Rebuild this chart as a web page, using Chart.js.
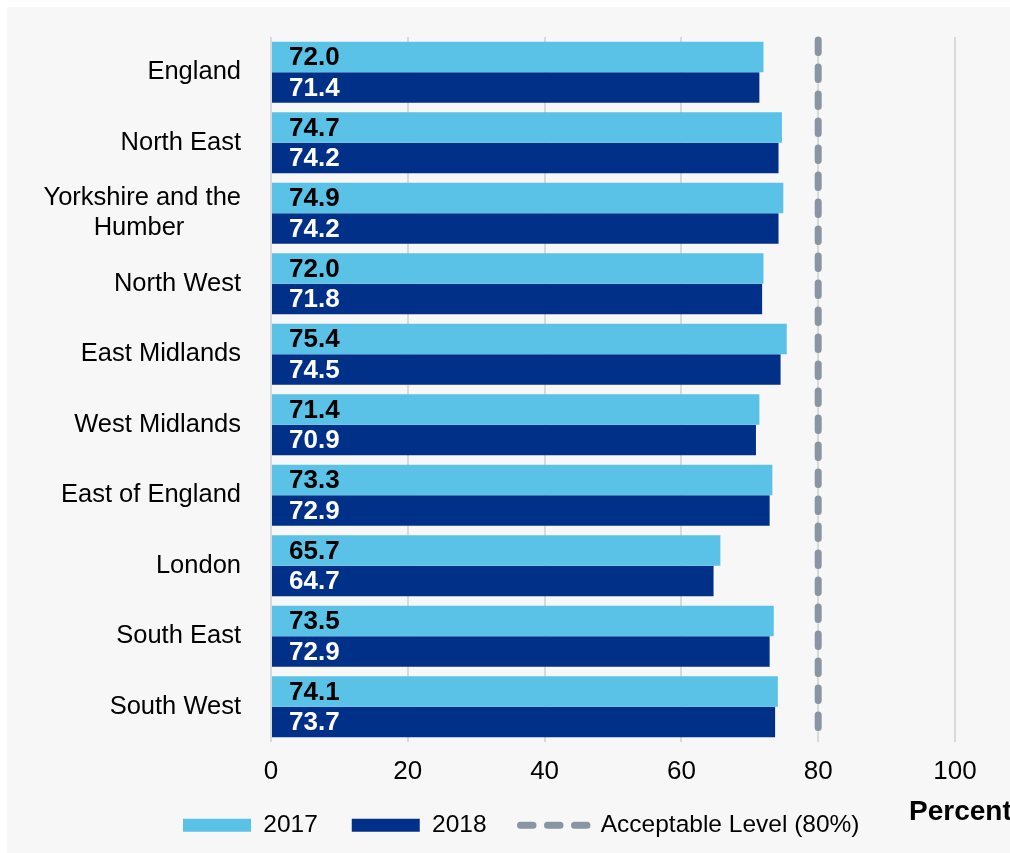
<!DOCTYPE html>
<html>
<head>
<meta charset="utf-8">
<script src="https://cdn.jsdelivr.net/npm/chart.js@4/dist/chart.umd.min.js"></script>
<style>
  html, body { margin: 0; padding: 0; background: #ffffff; }
  canvas { display: block; }
</style>
</head>
<body>
<canvas id="chart" width="1010" height="853"></canvas>
<script>
const NBSP = '\u00A0';

const regions = [
    'England',
    'North East',
    ['Yorkshire and the', 'Humber' + NBSP.repeat(8)],
    'North West',
    'East Midlands',
    'West Midlands',
    'East of England',
    'London',
    'South East',
    'South West'
];
const values2017 = [72.0, 74.7, 74.9, 72.0, 75.4, 71.4, 73.3, 65.7, 73.5, 74.1];
const values2018 = [71.4, 74.2, 74.2, 71.8, 74.5, 70.9, 72.9, 64.7, 72.9, 73.7];
const seriesNames = ['2017', '2018'];
const acceptableLevel = 80;
const acceptableLabel = 'Acceptable Level (80%)';
const axisMin = 0;
const axisMax = 100;
const axisStep = 20;
const axisTitle = 'Percent';

const FONT = "'Liberation Sans', Arial, sans-serif";
const lightBlue = '#5bc2e7';
const darkBlue = '#003087';
const dashGrey = '#8995a2';
const dashPattern = [12.5, 14.5];

// grey panel behind the chart, with the white strip top and left
const backgroundPlugin = {
    id: 'panel',
    beforeDraw(chart) {
        const ctx = chart.ctx;
        ctx.save();
        ctx.fillStyle = '#ffffff';
        ctx.fillRect(0, 0, chart.width, chart.height);
        ctx.fillStyle = '#f7f7f7';
        ctx.fillRect(7, 7, chart.width - 7, chart.height - 7);
        ctx.restore();

        // put the legend where the original has it
        const legend = chart.legend;
        legend.left = 149;
        legend.right = chart.width;
        legend.top = 779;
        legend.bottom = chart.height;
    }
};

// dashed 80% line and the value labels inside the bars
const overlayPlugin = {
    id: 'overlay',
    afterDatasetsDraw(chart) {
        const ctx = chart.ctx;
        const area = chart.chartArea;
        const x = chart.scales.x.getPixelForValue(acceptableLevel);

        ctx.save();
        ctx.strokeStyle = dashGrey;
        ctx.lineWidth = 7;
        ctx.lineCap = 'round';
        ctx.setLineDash(dashPattern);
        ctx.beginPath();
        ctx.moveTo(x, area.top + 3);
        ctx.lineTo(x, area.bottom);
        ctx.stroke();
        ctx.restore();

        ctx.save();
        ctx.font = 'bold 26px ' + FONT;
        ctx.textAlign = 'left';
        ctx.textBaseline = 'middle';
        chart.data.datasets.forEach((ds, i) => {
            const meta = chart.getDatasetMeta(i);
            ctx.fillStyle = i === 0 ? '#000000' : '#ffffff';
            meta.data.forEach((bar, j) => {
                ctx.fillText(ds.data[j].toFixed(1), bar.base + 17, bar.y + 1);
            });
        });
        ctx.restore();
    },
    afterDraw(chart) {
        const ctx = chart.ctx;
        ctx.save();
        ctx.font = 'bold 28px ' + FONT;
        ctx.fillStyle = '#000000';
        ctx.textAlign = 'left';
        ctx.textBaseline = 'middle';
        ctx.fillText(axisTitle, chart.scales.x.right - 46, 812);
        ctx.restore();
    }
};

new Chart(document.getElementById('chart'), {
    type: 'bar',
    data: {
        labels: regions,
        datasets: [
            {
                label: seriesNames[0],
                data: values2017,
                backgroundColor: lightBlue,
                barPercentage: 1,
                categoryPercentage: 0.865
            },
            {
                label: seriesNames[1],
                data: values2018,
                backgroundColor: darkBlue,
                barPercentage: 1,
                categoryPercentage: 0.865
            }
        ]
    },
    options: {
        indexAxis: 'y',
        responsive: false,
        animation: false,
        devicePixelRatio: 1,
        layout: {
            padding: { top: 37, right: 55, left: 0, bottom: 0 }
        },
        scales: {
            x: {
                min: axisMin,
                max: axisMax,
                ticks: {
                    stepSize: axisStep,
                    color: '#000000',
                    padding: 14,
                    font: { family: FONT, size: 26 }
                },
                grid: {
                    color: '#d9d9d9',
                    lineWidth: 2,
                    drawTicks: false
                },
                border: { display: false },
                afterFit(scale) {
                    scale.height = 110;
                }
            },
            y: {
                ticks: {
                    color: '#000000',
                    padding: 30,
                    font: { family: FONT, size: 25.5, lineHeight: 1.18 }
                },
                grid: { display: false, drawTicks: false },
                border: { display: false },
                afterFit(scale) {
                    scale.width = 271;
                    scale.paddingTop = 0;
                    scale.paddingBottom = 0;
                }
            }
        },
        plugins: {
            tooltip: { enabled: false },
            legend: {
                position: 'bottom',
                align: 'start',
                maxHeight: 1,
                labels: {
                    usePointStyle: true,
                    pointStyleWidth: 68,
                    boxHeight: 13,
                    padding: 34,
                    color: '#000000',
                    font: { family: FONT, size: 24.5 },
                    generateLabels() {
                        return [
                            { text: seriesNames[0], fillStyle: lightBlue, strokeStyle: lightBlue, lineWidth: 0, pointStyle: 'rect', datasetIndex: 0 },
                            { text: seriesNames[1], fillStyle: darkBlue, strokeStyle: darkBlue, lineWidth: 0, pointStyle: 'rect', datasetIndex: 1 },
                            { text: acceptableLabel, fillStyle: 'rgba(0,0,0,0)', strokeStyle: dashGrey, lineWidth: 7, lineCap: 'round', lineDash: dashPattern, pointStyle: 'line' }
                        ];
                    }
                }
            }
        }
    },
    plugins: [backgroundPlugin, overlayPlugin]
});
</script>
</body>
</html>
